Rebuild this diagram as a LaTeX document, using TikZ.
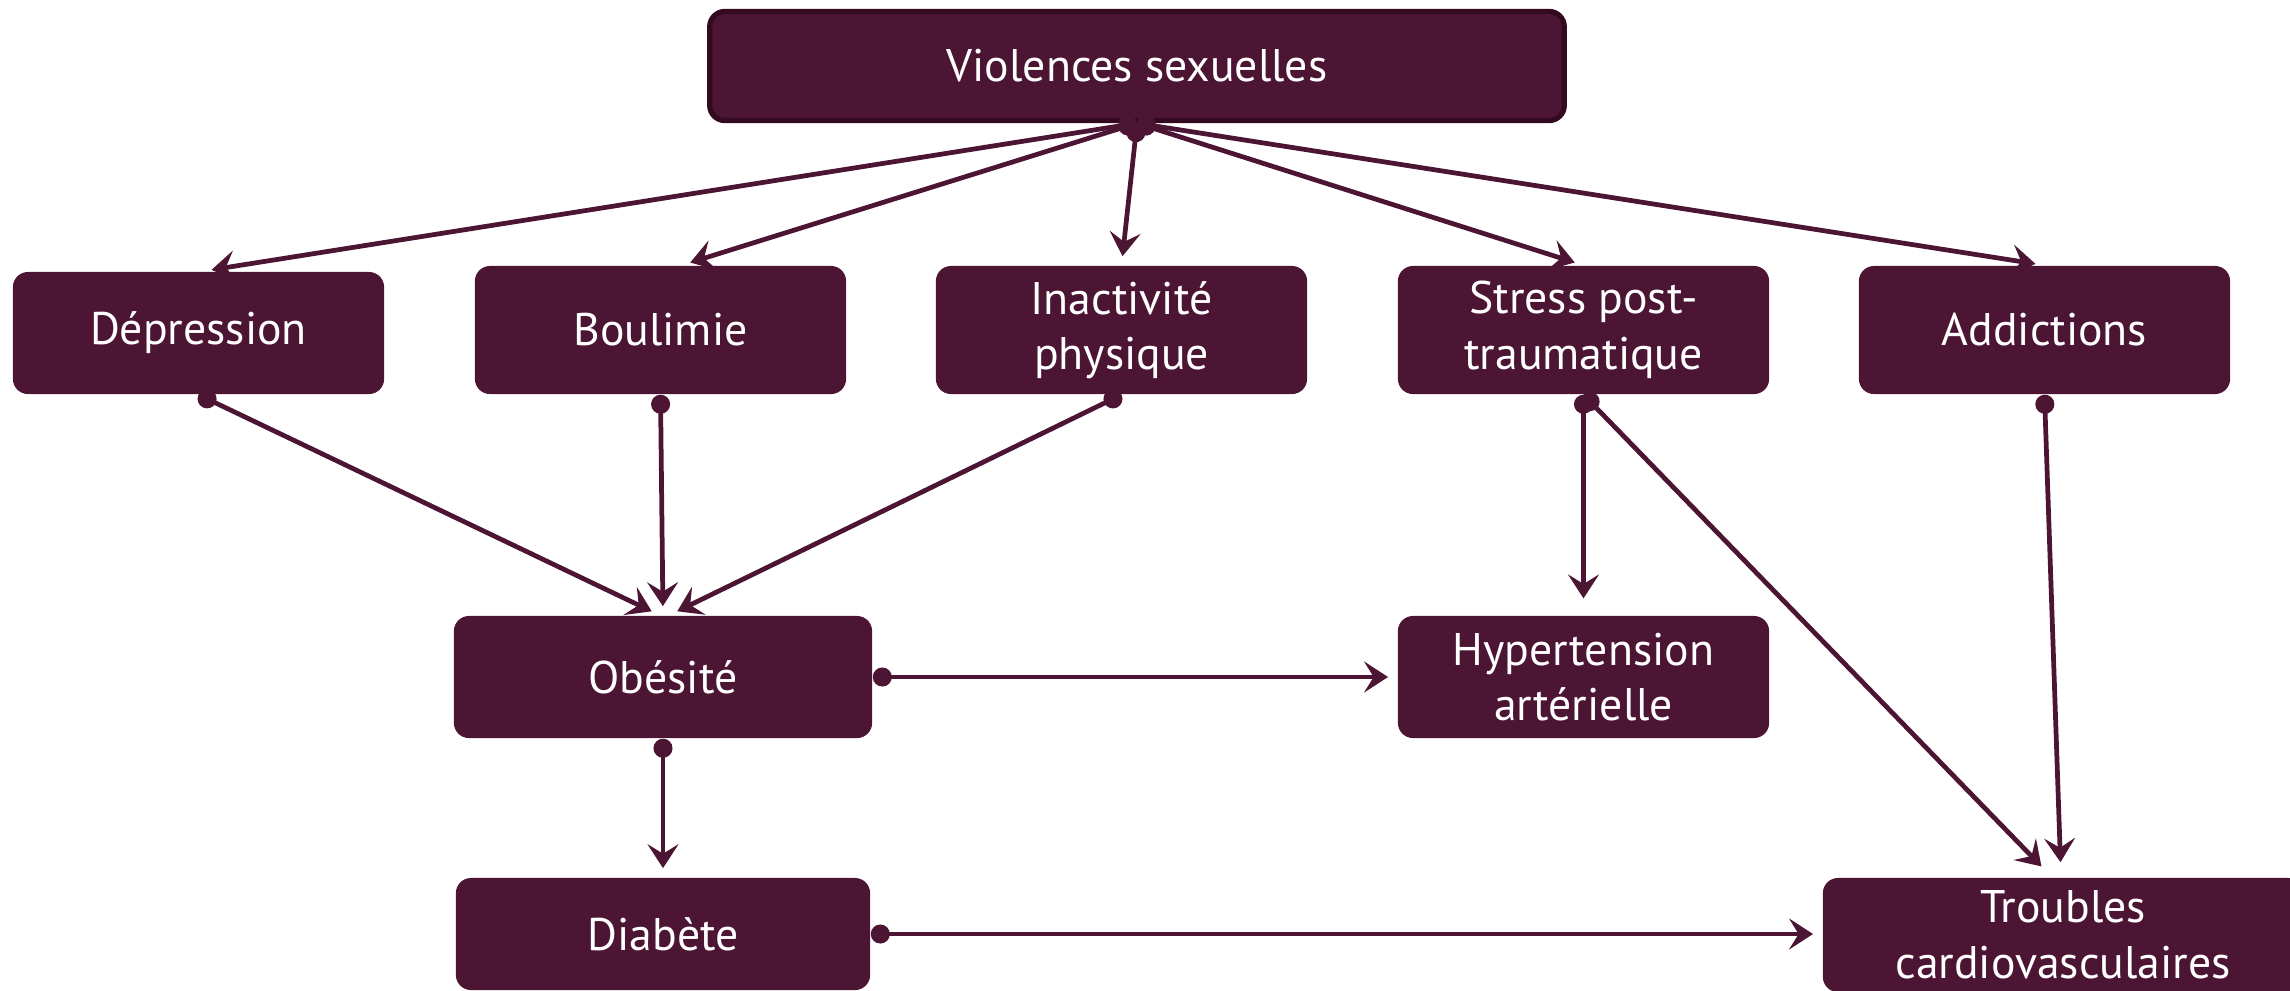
\documentclass[tikz,border=0pt]{standalone}
\usepackage{fontspec}
\setmainfont{PT Sans}
\usetikzlibrary{arrows.meta,calc}
\definecolor{wine}{RGB}{77,21,52}
\definecolor{wineedge}{RGB}{52,10,33}
\begin{document}
\begin{tikzpicture}[x=0.01cm,y=-0.01cm,
  box/.style={rectangle, rounded corners=4.3pt, fill=wine, text=white,
    font=\fontsize{13}{15.8}\selectfont, align=center, inner sep=0pt},
  conn/.style={draw=wine, line width=1.35pt,
    {Circle[length=5.4pt]}-{Stealth[length=6.8pt,width=8.8pt,inset=2.7pt]},
    shorten >=2.6pt}
]
\useasboundingbox (0,0) rectangle (2290,990);

\node[box, minimum width=8.54cm, minimum height=1.09cm, draw=wineedge, line width=1.5pt] (vs) at (1137,66) {Violences sexuelles};

\node[box, minimum width=3.71cm, minimum height=1.22cm] (dep) at (198.5,333) {Dépression};
\node[box, minimum width=3.71cm, minimum height=1.28cm] (bou) at (660.5,330) {Boulimie};
\node[box, minimum width=3.71cm, minimum height=1.28cm] (ina) at (1121.5,330) {Inactivité\\physique};
\node[box, minimum width=3.71cm, minimum height=1.28cm] (str) at (1583.5,330) {Stress post-\\traumatique};
\node[box, minimum width=3.71cm, minimum height=1.28cm] (add) at (2044.5,330) {Addictions};

\node[box, minimum width=4.18cm, minimum height=1.22cm] (obe) at (663,677) {Obésité};
\node[box, minimum width=3.71cm, minimum height=1.22cm] (hyp) at (1583.5,677) {Hypertension\\artérielle};

\node[box, minimum width=4.14cm, minimum height=1.12cm] (dia) at (663,934) {Diabète};
\node[box, minimum width=4.80cm, minimum height=1.14cm] (tro) at (2063,935) {Troubles\\cardiovasculaires};

\draw[conn] (vs.south) -- ([xshift=0.04cm]dep.north);
\draw[conn] (vs.south) -- ([xshift=0.21cm]bou.north);
\draw[conn] (vs.south) -- (ina.north);
\draw[conn] (vs.south) -- (str.north);
\draw[conn] (vs.south) -- (add.north);

\draw[conn] (dep.south) -- ([xshift=-0.03cm]obe.north);
\draw[conn] (bou.south) -- (obe.north);
\draw[conn] (ina.south) -- ([xshift=0.06cm]obe.north);

\draw[conn, shorten >=4.8pt] (str.south) -- (hyp.north);
\draw[conn, shorten >=4.3pt] (str.south) -- ([xshift=-0.11cm]tro.north);
\draw[conn, shorten >=4.3pt] (add.south) -- ([xshift=-0.02cm]tro.north);

\draw[conn] (obe.east) -- (hyp.west);
\draw[conn] (obe.south) -- (dia.north);
\draw[conn] (dia.east) -- (dia.east -| tro.west);
\end{tikzpicture}
\end{document}
